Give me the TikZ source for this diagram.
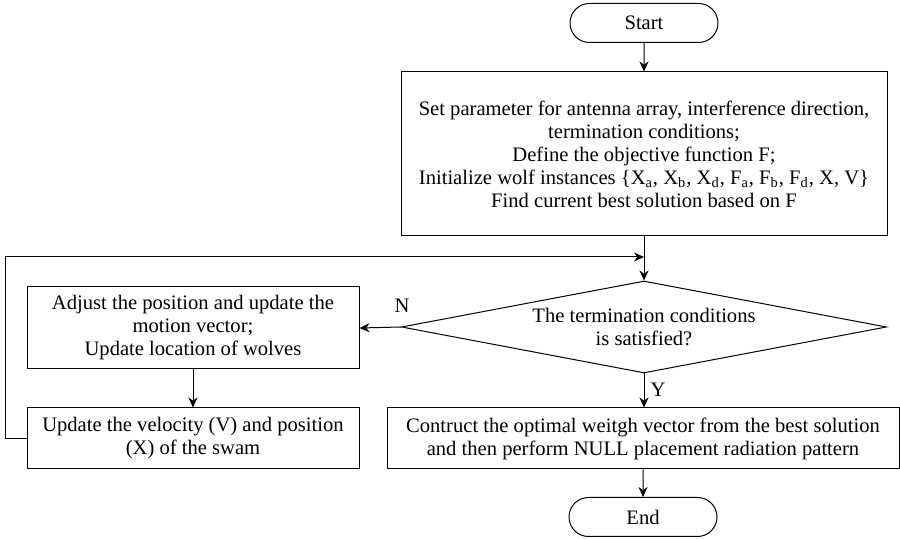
\documentclass[tikz,border=0pt]{standalone}
\usepackage{fontspec}
\setmainfont{Liberation Serif}
\usetikzlibrary{arrows.meta,shapes.misc,shapes.geometric}
\begin{document}
\begin{tikzpicture}[x=0.5pt,y=-0.5pt,line width=0.5pt,
    every node/.style={font=\fontsize{10.3}{11.5}\selectfont},
    box/.style={draw,rectangle,align=center,inner sep=0pt},
    term/.style={draw,rounded rectangle,minimum width=74pt,minimum height=19.5pt,inner sep=0pt},
    cond/.style={draw,diamond,aspect=5.27,inner sep=0pt,minimum width=242.5pt,minimum height=46pt,align=center},
    >={Stealth[length=5pt,width=4.5pt]}]
        \useasboundingbox (0,0) rectangle (900,539);
        %% Blocks
        \node[term] (start) at (644,23) {Start};
        \node[box,minimum width=243pt,minimum height=82pt] (init) at (644,154)
            {Set parameter for antenna array, interference direction,\\
             termination conditions;\\
             Define the objective function F;\\
             Initialize wolf instances \{X\textsubscript{a}, X\textsubscript{b}, X\textsubscript{d}, F\textsubscript{a}, F\textsubscript{b}, F\textsubscript{d}, X, V\}\\
             Find current best solution based on F};
        \node[cond] (cond) at (644,327) {The termination conditions\\is satisfied?};
        \node[box,minimum width=166pt,minimum height=41pt] (adj) at (193,328)
            {Adjust the position and update the\\motion vector;\\Update location of wolves};
        \node[box,minimum width=166pt,minimum height=30.5pt] (upd) at (193,438.5)
            {Update the velocity (V) and position\\(X) of the swam};
        \node[box,minimum width=256pt,minimum height=30.5pt] (final) at (643,438.5)
            {Contruct the optimal weitgh vector from the best solution\\and then perform NULL placement radiation pattern};
        \node[term] (stop) at (643,517) {End};
        %% Labels
        \node (nlab) at (402,306) {N};
        \node (ylab) at (658,390) {Y};
        %% Arrows
        \coordinate (merge) at (644,257);
        \draw[->] (start) -- (init);
        \draw[->] (init) -- (cond);
        \draw[->] (cond.west) -- (adj.east);
        \draw[->] (adj) -- (upd);
        \draw[->] (upd.west) -- ++(-21,0) |- (merge);
        \draw[->] (cond.south) -- (cond.south |- final.north);
        \draw[->] (final) -- (stop);
    \end{tikzpicture}
\end{document}
